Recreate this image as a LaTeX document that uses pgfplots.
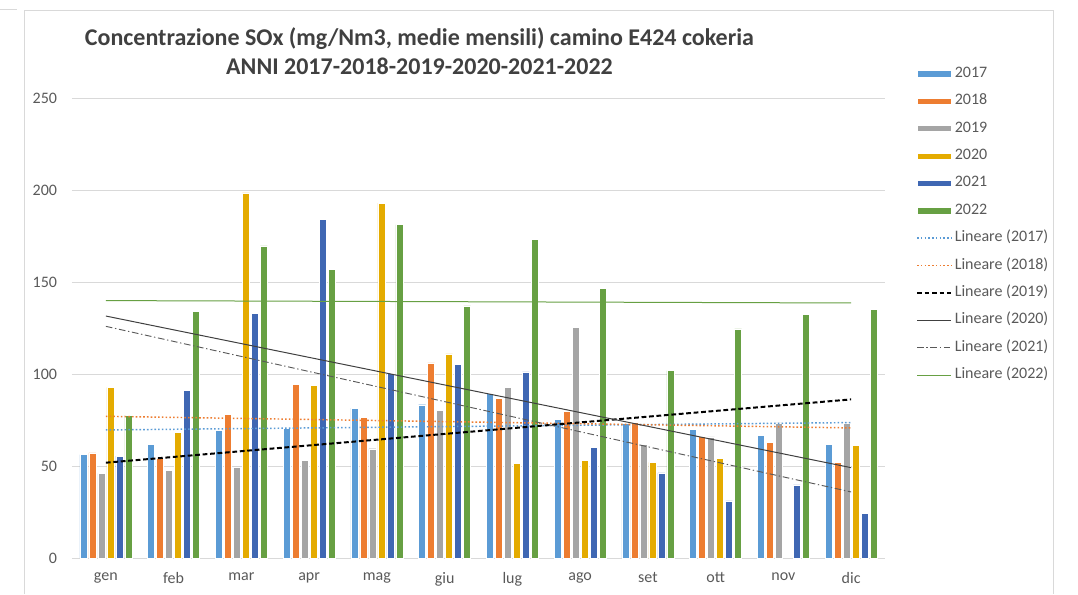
\documentclass[border=0pt]{standalone}
\usepackage{pgfplots}
\pgfplotsset{compat=1.18}
\usepackage{pgfplotstable}
\usepackage{fontspec}
\setmainfont{Carlito}

\definecolor{c17}{HTML}{5B9BD5}
\definecolor{c18}{HTML}{ED7D31}
\definecolor{c19}{HTML}{A5A5A5}
\definecolor{c20}{HTML}{E4AB00}
\definecolor{c21}{HTML}{3F67B3}
\definecolor{c22}{HTML}{67A043}
\definecolor{gridc}{HTML}{D9D9D9}
\definecolor{txt}{HTML}{595959}
\definecolor{ttl}{HTML}{404040}

\pgfplotstableread{
x  a     b     c     d     e     f
0  56.2  57.2  46.0  92.8  55.4  77.7
1  61.8  54.0  47.6  68.3  91.1  133.9
2  69.4  78.1  49.5  198.4 133.0 169.7
3  70.5  94.2  53.1  93.8  183.9 156.9
4  81.5  76.3  59.4  192.9 100.2 181.2
5  83.3  106.0 80.3  110.9 105.3 137.0
6  89.3  86.8  92.9  51.3  101.1 173.0
7  75.2  79.7  125.4 53.1  60.3  146.7
8  73.0  73.6  61.8  52.0  46.2  101.8
9  69.9  66.1  65.8  54.2  31.0  124.5
10 66.5  63.0  73.4  nan   39.7  132.4
11 61.8  52.0  73.4  61.4  24.1  135.0
}\data

\begin{document}
\begin{tikzpicture}
\useasboundingbox (0,0) rectangle (808.5pt,445.5pt);
% chart frame
\draw[gridc, line width=0.75pt] (18pt,0) -- (18pt,437.5pt) -- (789.75pt,437.5pt) -- (789.75pt,0);
\draw[gridc, line width=0.75pt] (0,438.5pt) -- (12.5pt,438.5pt);
\begin{axis}[
  at={(54pt,27pt)}, anchor=south west,
  scale only axis, width=609.75pt, height=345pt,
  xmin=-0.5, xmax=11.5, ymin=0, ymax=250,
  ybar=1.5pt, bar width=5.25pt,
  axis line style={draw=none},
  axis x line*=bottom,
  x axis line style={draw=gridc, line width=0.75pt},
  ytick={0,50,...,250},
  xtick={0,...,11},
  xticklabels={gen,feb,mar,apr,mag,giu,lug,ago,set,ott,nov,dic},
  major tick length=0pt,
  ymajorgrids, grid style={gridc, line width=0.75pt},
  tick label style={font=\fontsize{12}{14}\selectfont, text=txt},
  /pgf/number format/assume math mode=true,
  y tick label style={inner sep=0pt, xshift=-11pt},
  x tick label style={inner sep=0pt, yshift=-10.5pt},
  title={\textbf{Concentrazione SOx (mg/Nm3, medie mensili) camino E424 cokeria}\\\textbf{ANNI 2017-2018-2019-2020-2021-2022}},
  title style={at={(0.4274,1.0848)}, anchor=center, align=center, font=\fontsize{18}{21.75}\selectfont, text=ttl, inner sep=0pt},
  legend style={draw=none, fill=none, at={(1.038,1.068)}, anchor=north west,
    font=\fontsize{12}{14}\selectfont, text=txt, inner sep=0pt, row sep=10.55pt,
    nodes={inner sep=0pt, text height=7.8pt, text depth=2.2pt}},
  legend cell align=left,
]
\pgfplotsset{
  barleg/.style={legend image code/.code={\fill[##1] (0pt,-2.3pt) rectangle (25.5pt,2.3pt);}},
  lineleg/.style={legend image code/.code={\draw[##1] (0pt,0pt) -- (25.5pt,0pt);}},
}
\addplot[fill=c17, draw=white, line width=0.3pt, barleg] table[x=x,y=a]{\data};
\addlegendentry{\,2017}
\addplot[fill=c18, draw=white, line width=0.3pt, barleg] table[x=x,y=b]{\data};
\addlegendentry{\,2018}
\addplot[fill=c19, draw=white, line width=0.3pt, barleg] table[x=x,y=c]{\data};
\addlegendentry{\,2019}
\addplot[fill=c20, draw=white, line width=0.3pt, barleg] table[x=x,y=d]{\data};
\addlegendentry{\,2020}
\addplot[fill=c21, draw=white, line width=0.3pt, barleg] table[x=x,y=e]{\data};
\addlegendentry{\,2021}
\addplot[fill=c22, draw=white, line width=0.3pt, barleg] table[x=x,y=f]{\data};
\addlegendentry{\,2022}
% linear trend lines
\addplot[sharp plot, bar shift=0pt, c17, line width=1.1pt, dash pattern=on 1.2pt off 1.6pt, lineleg] coordinates {(0,69.6) (11,73.6)};
\addlegendentry{\,Lineare (2017)}
\addplot[sharp plot, bar shift=0pt, c18, line width=1.1pt, dash pattern=on 1.2pt off 1.6pt, lineleg] coordinates {(0,77.0) (11,70.7)};
\addlegendentry{\,Lineare (2018)}
\addplot[sharp plot, bar shift=0pt, black, line width=1.5pt, dash pattern=on 3.6pt off 2pt, lineleg] coordinates {(0,51.8) (11,86.2)};
\addlegendentry{\,Lineare (2019)}
\addplot[sharp plot, bar shift=0pt, ttl, line width=0.75pt, lineleg] coordinates {(0,131.5) (11,49.1)};
\addlegendentry{\,Lineare (2020)}
\addplot[sharp plot, bar shift=0pt, txt, line width=0.7pt, dash pattern=on 5pt off 2pt on 1pt off 2pt, lineleg] coordinates {(0,125.9) (11,35.9)};
\addlegendentry{\,Lineare (2021)}
\addplot[sharp plot, bar shift=0pt, c22, line width=0.75pt, lineleg] coordinates {(0,139.9) (11,138.6)};
\addlegendentry{\,Lineare (2022)}
\end{axis}
\end{tikzpicture}
\end{document}
